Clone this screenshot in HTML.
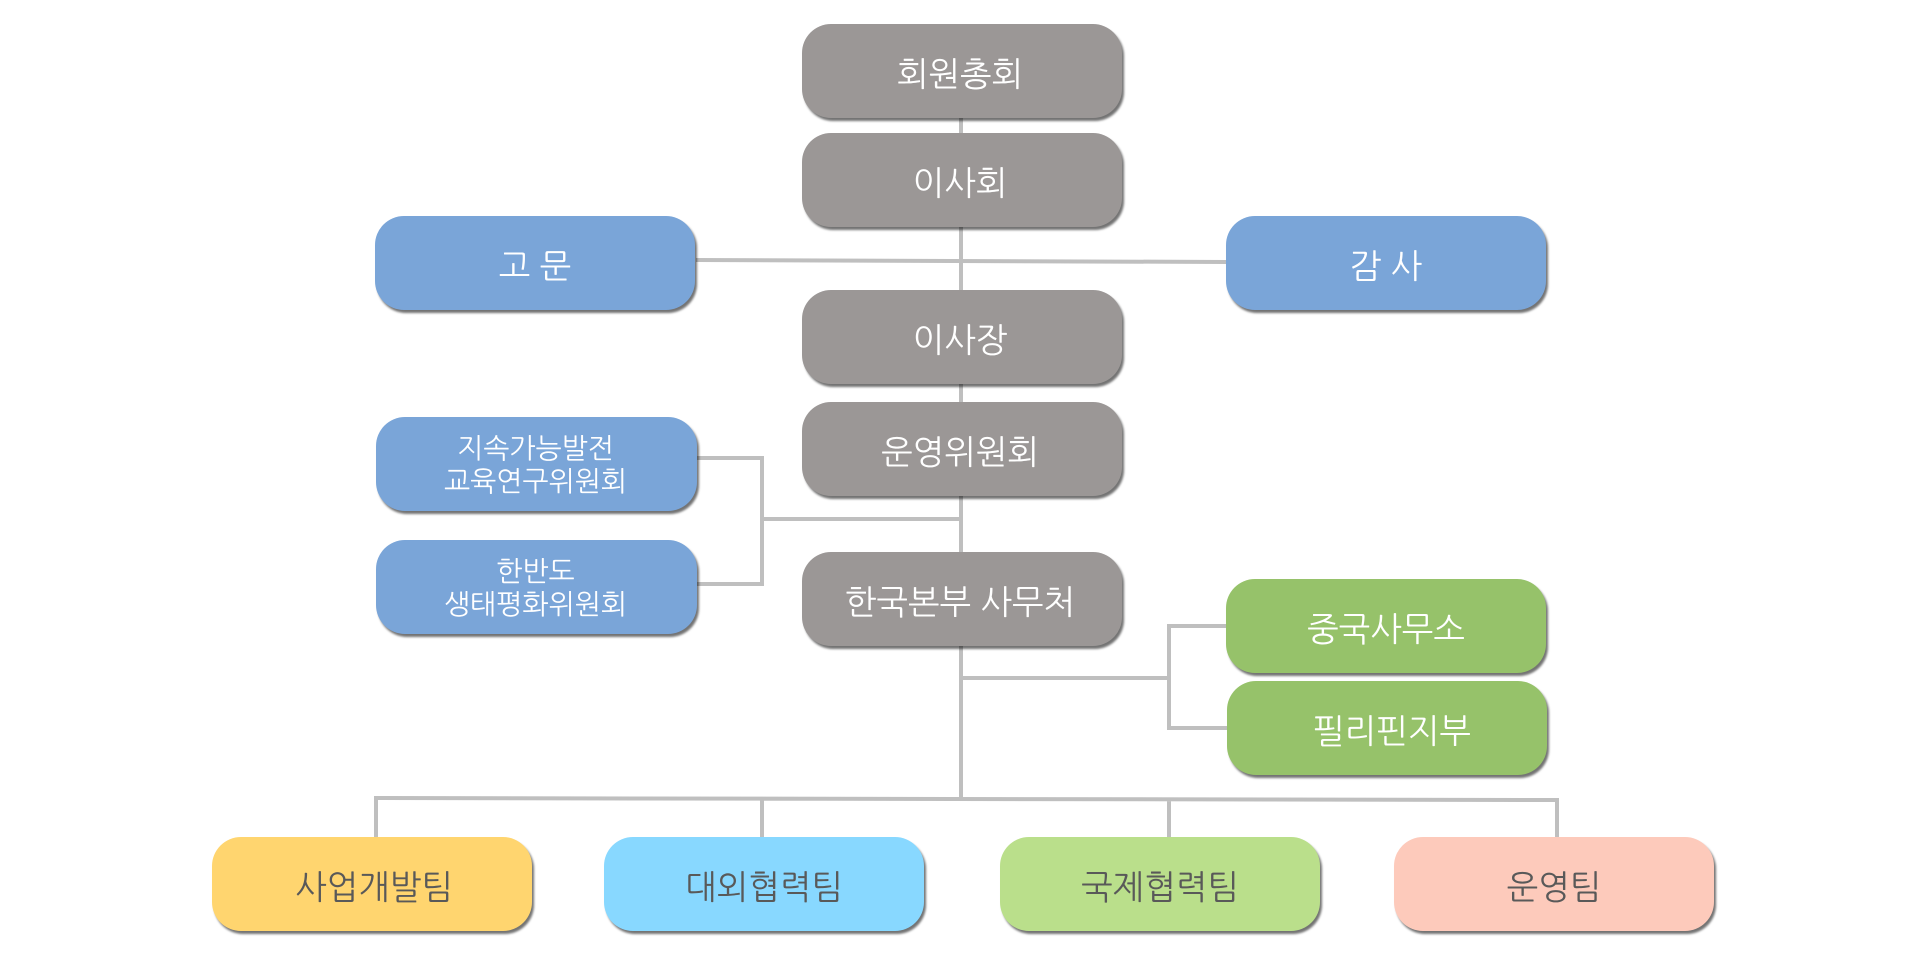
<!DOCTYPE html>
<html lang="ko">
<head>
<meta charset="utf-8">
<style>
html,body{margin:0;padding:0;background:#fff;}
#p{position:relative;width:1920px;height:960px;overflow:hidden;background:#fff;font-family:"Liberation Sans","NanumGothic","Noto Sans CJK KR",sans-serif;}
svg{position:absolute;left:0;top:0;}
.b{position:absolute;width:320px;height:94px;border-radius:29px;box-shadow:2px 3px 2px rgba(0,0,0,.55);display:flex;align-items:center;justify-content:center;text-align:center;color:#fff;font-size:33.6px;line-height:34px;white-space:nowrap;}
.b span{position:relative;top:5px;}
.g span{left:-2px;}
.g{background:#9b9796;}
.u{background:#7aa5d8;}
.n{background:#96c26a;}
.d{color:#595959;}
.s{font-size:27.8px;line-height:33px;width:321px;left:376px;}
.s span{top:1px;left:-1px;}
</style>
</head>
<body>
<div id="p">
<svg width="1920" height="960">
<g stroke="#bfbfbf" stroke-width="4" fill="none">
<path d="M961 118V133M961 227V290M961 384V402M961 496V552M961 646V798"/>
<path d="M696 260L1226 262"/>
<path d="M697 458H762V584H697M762 519H961"/>
<path d="M961 678H1169M1226 626H1169V728H1227"/>
<path d="M376 837V798L1557 800V837M762 799V837M1169 799V837"/>
</g>
</svg>
<div class="b g" style="left:802px;top:24px"><span>회원총회</span></div>
<div class="b g" style="left:802px;top:133px"><span>이사회</span></div>
<div class="b g" style="left:802px;top:290px"><span>이사장</span></div>
<div class="b g" style="left:802px;top:402px"><span>운영위원회</span></div>
<div class="b g" style="left:802px;top:552px"><span>한국본부 사무처</span></div>
<div class="b u" style="left:375px;top:216px"><span>고 문</span></div>
<div class="b u" style="left:1226px;top:216px"><span>감 사</span></div>
<div class="b u s" style="top:417px"><span>지속가능발전<br>교육연구위원회</span></div>
<div class="b u s" style="top:540px"><span>한반도<br>생태평화위원회</span></div>
<div class="b n" style="left:1226px;top:579px"><span>중국사무소</span></div>
<div class="b n" style="left:1227px;top:681px"><span style="left:5px">필리핀지부</span></div>
<div class="b d" style="left:212px;top:837px;background:#ffd56f"><span style="left:2px">사업개발팀</span></div>
<div class="b d" style="left:604px;top:837px;background:#88d8ff"><span>대외협력팀</span></div>
<div class="b d" style="left:1000px;top:837px;background:#badf8b"><span>국제협력팀</span></div>
<div class="b d" style="left:1394px;top:837px;background:#fdcabb"><span>운영팀</span></div>
</div>
</body>
</html>
